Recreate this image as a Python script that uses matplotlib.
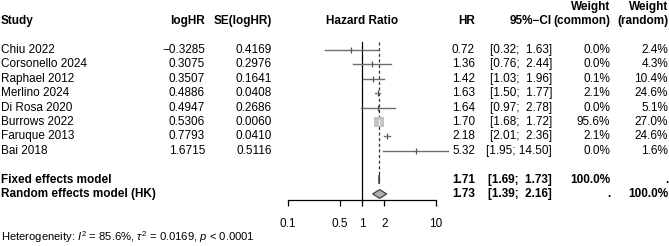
import numpy as np
import matplotlib
matplotlib.use("Agg")
import matplotlib.pyplot as plt
from matplotlib.patches import Polygon
from matplotlib.transforms import blended_transform_factory

plt.rcParams['font.family'] = ['Liberation Sans', 'DejaVu Sans']
plt.rcParams['mathtext.fontset'] = 'custom'
plt.rcParams['mathtext.rm'] = 'Liberation Sans'
plt.rcParams['mathtext.it'] = 'Liberation Sans:italic'

# données
studies = ['Chiu 2022', 'Corsonello 2024', 'Raphael 2012', 'Merlino 2024',
           'Di Rosa 2020', 'Burrows 2022', 'Faruque 2013', 'Bai 2018']
loghr = [-0.3285, 0.3075, 0.3507, 0.4886, 0.4947, 0.5306, 0.7793, 1.6715]
se_loghr = [0.4169, 0.2976, 0.1641, 0.0408, 0.2686, 0.0060, 0.0410, 0.5116]
hr = [0.72, 1.36, 1.42, 1.63, 1.64, 1.70, 2.18, 5.32]
ci_lo = [0.32, 0.76, 1.03, 1.50, 0.97, 1.68, 2.01, 1.95]
ci_hi = [1.63, 2.44, 1.96, 1.77, 2.78, 1.72, 2.36, 14.50]
w_common = [0.0, 0.0, 0.1, 2.1, 0.0, 95.6, 2.1, 0.0]
w_random = [2.4, 4.3, 10.4, 24.6, 5.1, 27.0, 24.6, 1.6]

fixed_hr, fixed_lo, fixed_hi = 1.71, 1.69, 1.73
random_hr, random_lo, random_hi = 1.73, 1.39, 2.16
het_text = r"Heterogeneity: $\mathit{I}^2$ = 85.6%, $\tau^2$ = 0.0169, $\mathit{p}$ < 0.0001"
xticks = [0.1, 0.5, 1, 2, 10]

W, H = 669, 246
FS = 8.5

fig = plt.figure(figsize=(W / 100, H / 100), dpi=100)

# zone du graphique : 0.1 -> x=288 px, 10 -> x=436 px, axe en y=200 px
row_h = 14.4
y_top, y_bot = -1.0, 10.42
ax_h = (y_bot - y_top) * row_h
ax = fig.add_axes([288 / W, (H - 200) / H, 148 / W, ax_h / H])
ax.set_xscale('log')
ax.set_xlim(0.1, 10)
ax.set_ylim(y_bot, y_top)
for s in ['top', 'left', 'right']:
    ax.spines[s].set_visible(False)
ax.spines['bottom'].set_linewidth(0.9)
ax.set_yticks([])
ax.set_xticks(xticks)
ax.set_xticklabels([f'{t:g}' for t in xticks])
ax.minorticks_off()
ax.tick_params(axis='x', direction='out', length=4.5, width=0.9, pad=8.5, labelsize=FS)
ax.patch.set_alpha(0)

rows = np.arange(len(studies))

# lignes de référence
ax.plot([1, 1], [-0.56, y_bot], color='black', lw=0.9, clip_on=False)
ax.plot([fixed_hr, fixed_hr], [-0.56, 9 - 0.3], color='#333333', lw=0.9,
        ls=(0, (2.5, 2)), clip_on=False)

# intervalles de confiance + carrés
max_w = max(w_common)
for i in rows:
    ax.plot([ci_lo[i], ci_hi[i]], [i, i], color='#6e6e6e', lw=1.0,
            clip_on=False, zorder=3)
    ms = 7.5 * np.sqrt(w_common[i] / max_w)
    if ms > 0:
        ax.plot(hr[i], i, marker='s', ms=ms, color='#c4c4c4', mew=0,
                zorder=4, clip_on=False)
    tick_col = '#f0f0f0' if ms > 4 else '#555555'
    ax.plot(hr[i], i, marker='|', ms=4, mew=0.9, color=tick_col, zorder=5,
            clip_on=False)

# diamants
def diamond(y, lo, est, hi, fc):
    pts = [(lo, y), (est, y - 0.3), (hi, y), (est, y + 0.3)]
    ax.add_patch(Polygon(pts, closed=True, fc=fc, ec='#404040', lw=0.9,
                         zorder=5, clip_on=False))

diamond(9, fixed_lo, fixed_hr, fixed_hi, '#a8a8a8')
diamond(10, random_lo, random_hr, random_hi, '#b0b0b0')

# colonnes de texte
tr = blended_transform_factory(fig.transFigure, ax.transData)

def col(x_px, y, s, ha='right', bold=False):
    fig.text(x_px / W, y, s, transform=tr, ha=ha, va='center', fontsize=FS,
             fontweight='bold' if bold else 'normal')

# en-têtes
col(1, -2, 'Study', ha='left', bold=True)
col(205, -2, 'logHR', bold=True)
col(272, -2, 'SE(logHR)', bold=True)
col(362, -2, 'Hazard Ratio', ha='center', bold=True)
col(475, -2, 'HR', bold=True)
col(552, -2, '95%\u2212CI', bold=True)
col(610, -3, 'Weight', bold=True)
col(610, -2, '(common)', bold=True)
col(668, -3, 'Weight', bold=True)
col(668, -2, '(random)', bold=True)

def fmt_ci(lo, hi):
    return f'[{lo:.2f}; {hi:5.2f}]'

for i in rows:
    col(1, i, studies[i], ha='left')
    col(205, i, f'{loghr[i]:.4f}'.replace('-', '\u2212'))
    col(272, i, f'{se_loghr[i]:.4f}')
    col(475, i, f'{hr[i]:.2f}')
    col(552, i, fmt_ci(ci_lo[i], ci_hi[i]))
    col(610, i, f'{w_common[i]:.1f}%')
    col(668, i, f'{w_random[i]:.1f}%')

col(1, 9, 'Fixed effects model', ha='left', bold=True)
col(475, 9, f'{fixed_hr:.2f}', bold=True)
col(552, 9, fmt_ci(fixed_lo, fixed_hi), bold=True)
col(610, 9, '100.0%', bold=True)
col(668, 9, '.', bold=True)

col(1, 10, 'Random effects model (HK)', ha='left', bold=True)
col(475, 10, f'{random_hr:.2f}', bold=True)
col(552, 10, fmt_ci(random_lo, random_hi), bold=True)
col(610, 10, '.', bold=True)
col(668, 10, '100.0%', bold=True)

fig.text(1 / W, 1 - 237 / H, het_text, ha='left', va='center', fontsize=8.1)

fig.savefig('out.png', dpi=100)
